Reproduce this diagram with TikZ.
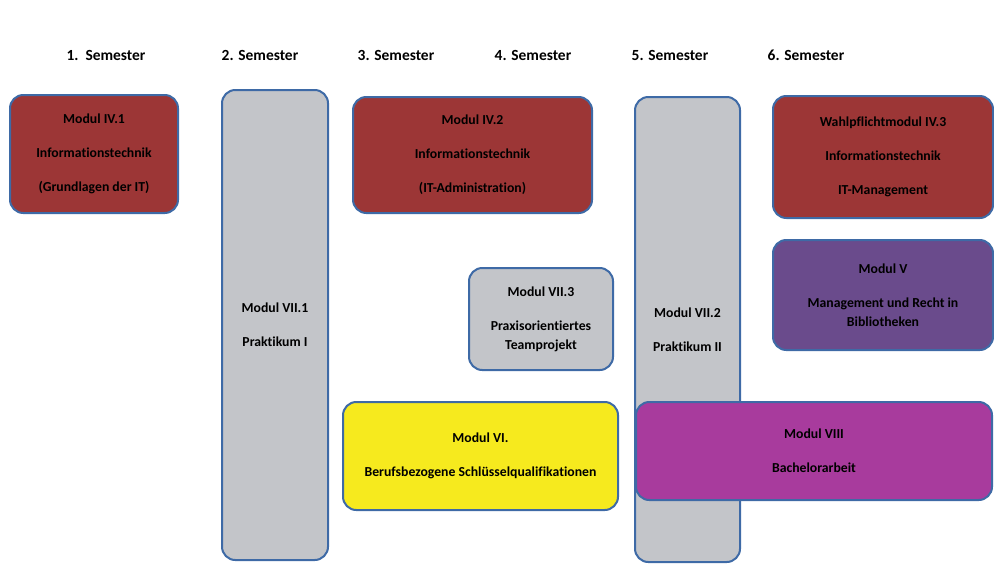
\documentclass[tikz,border=0pt]{standalone}
\usepackage{fontspec}
\setmainfont{Carlito}[Ligatures=NoCommon]
\definecolor{modred}{HTML}{9C3636}
\definecolor{modgray}{HTML}{C3C5C9}
\definecolor{modpurple}{HTML}{6A4B8C}
\definecolor{modyellow}{HTML}{F6EA1E}
\definecolor{modmagenta}{HTML}{A83B9D}
\definecolor{modborder}{HTML}{3E6AA6}
\begin{document}
\begin{tikzpicture}[x=0.75pt,y=-0.75pt,
  modbox/.style={draw=modborder,line width=1.5pt,rounded corners=10pt,
    align=center,inner sep=0pt,
    font=\fontsize{10.3}{14.25}\selectfont\bfseries},
  semhead/.style={font=\fontsize{11.6}{13}\selectfont\bfseries,inner sep=0pt}]
\useasboundingbox (0,0) rectangle (994,564);
% headers
\node[semhead] (s1) at (106,55) {1.\ \ Semester};
\node[semhead] (s2) at (260,55) {2. Semester};
\node[semhead] (s3) at (396,55) {3. Semester};
\node[semhead] (s4) at (533,55) {4. Semester};
\node[semhead] (s5) at (670,55) {5. Semester};
\node[semhead] (s6) at (806,55) {6. Semester};
% modules
\node[modbox,fill=modred,minimum width=168*0.75pt,minimum height=118*0.75pt] (m41) at (94,154)
  {Modul IV.1\\[11.25pt]Informationstechnik\\[11.25pt](Grundlagen der IT)};
\node[modbox,fill=modgray,minimum width=106*0.75pt,minimum height=470*0.75pt] (m71) at (275,325)
  {Modul VII.1\\[11.25pt]Praktikum I};
\node[modbox,fill=modred,minimum width=239*0.75pt,minimum height=116*0.75pt] (m42) at (472.5,155)
  {Modul IV.2\\[11.25pt]Informationstechnik\\[11.25pt](IT-Administration)};
\node[modbox,fill=modgray,minimum width=144*0.75pt,minimum height=102*0.75pt] (m73) at (541,319)
  {Modul VII.3\\[11.25pt]Praxisorientiertes\\Teamprojekt};
\node[modbox,fill=modgray,minimum width=105*0.75pt,minimum height=465*0.75pt] (m72) at (687.5,329.5)
  {Modul VII.2\\[11.25pt]Praktikum II};
\node[modbox,fill=modred,minimum width=220*0.75pt,minimum height=122*0.75pt] (m43) at (883,157)
  {Wahlpflichtmodul IV.3\\[11.25pt]Informationstechnik\\[11.25pt]IT-Management};
\node[modbox,fill=modpurple,minimum width=220*0.75pt,minimum height=110*0.75pt] (m5) at (883,295)
  {Modul V\\[11.25pt]Management und Recht in\\Bibliotheken};
\node[modbox,fill=modyellow,minimum width=275*0.75pt,minimum height=108*0.75pt] (m6) at (480.5,456)
  {Modul VI.\\[11.25pt]Berufsbezogene Schlüsselqualifikationen};
\node[modbox,fill=modmagenta,minimum width=356*0.75pt,minimum height=98*0.75pt] (m8) at (814,451)
  {Modul VIII\\[11.25pt]Bachelorarbeit};
\end{tikzpicture}
\end{document}
